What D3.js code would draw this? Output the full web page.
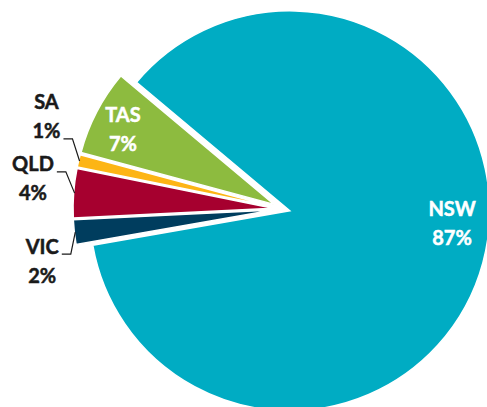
<!DOCTYPE html>
<html>
<head>
<meta charset="utf-8">
<script src="https://cdn.jsdelivr.net/npm/d3@7"></script>
<style>
  html, body { margin: 0; padding: 0; background: #ffffff; }
  svg { display: block; overflow: hidden; }
  text { font-family: Lato, "Open Sans", "Liberation Sans", sans-serif; font-weight: 700; }
</style>
</head>
<body>
<div id="chart"></div>
<script>
// ---- data ----
const categories = ["NSW", "VIC", "QLD", "SA", "TAS"];
const shares = [87, 2, 4, 1, 7];           // percent shares as labelled
const sliceColors = ["#00ACC3", "#003D5E", "#A6002F", "#FDB515", "#8DBB3F"];

// ---- layout (not data) ----
const W = 487, H = 407;
const center = [283, 209];
const radius = 200;
const startDeg = -50;
const explodeDist = [7, 10, 10, 10, 10];
const labelInside = [true, false, false, false, true];
// label anchor: [angle (deg, clockwise from 12 o'clock), distance from pie centre]
const labelPolar = [[97.25, 170.4], [256.2, 247.9], [275.3, 251.1], [289.8, 251.4], [294.4, 175.7]];
// which text line the leader attaches to (0 = name, 1 = percent), -1 = none
const leaderLine = [-1, 0, 0, 1, -1];
const lineGap = 29;
const fontSize = 20;

const data = categories.map((c, i) => ({ name: c, value: shares[i], color: sliceColors[i], idx: i }));

const svg = d3.select("#chart").append("svg")
  .attr("width", W).attr("height", H);

const toRad = d => d * Math.PI / 180;
const pie = d3.pie().sort(null).value(d => d.value)
  .startAngle(toRad(startDeg)).endAngle(toRad(startDeg) + 2 * Math.PI);
const arcs = pie(data);
const arcGen = d3.arc().innerRadius(0).outerRadius(radius);

const slices = svg.append("g").attr("transform", `translate(${center[0]},${center[1]})`);

arcs.forEach(a => {
  const mid = (a.startAngle + a.endAngle) / 2;
  const off = d3.pointRadial(mid, explodeDist[a.data.idx]);
  a.offset = off;
  a.mid = mid;
  slices.append("path")
    .attr("transform", `translate(${off[0]},${off[1]})`)
    .attr("d", arcGen(a))
    .attr("fill", a.data.color)
    .attr("stroke", "#ffffff")
    .attr("stroke-width", 1.5)
    .attr("stroke-linejoin", "miter");
});

// ---- labels ----
const labels = svg.append("g").attr("transform", `translate(${center[0]},${center[1]})`);
arcs.forEach(a => {
  const i = a.data.idx;
  const p = d3.pointRadial(toRad(labelPolar[i][0]), labelPolar[i][1]);
  const fill = labelInside[i] ? "#ffffff" : "#1a1a1a";
  const lines = [a.data.name, a.data.value + "%"];
  const texts = lines.map((t, k) => labels.append("text")
    .attr("x", p[0])
    .attr("y", p[1] + (k === 0 ? -lineGap / 2 : lineGap / 2))
    .attr("text-anchor", "middle")
    .attr("font-size", fontSize)
    .attr("fill", fill)
    .attr("stroke", fill)
    .attr("stroke-width", 0.5)
    .text(t));

  if (leaderLine[i] >= 0) {
    const t = texts[leaderLine[i]];
    const bb = t.node().getBBox();
    const endX = bb.x + bb.width + 3;
    const endY = +t.attr("y") + 0.5;
    const elbowX = endX + 9;
    const start = d3.pointRadial(a.mid, radius - 1);
    const sx = start[0] + a.offset[0], sy = start[1] + a.offset[1];
    labels.append("path")
      .attr("d", d3.line()([[sx, sy], [elbowX, endY], [endX, endY]]))
      .attr("fill", "none")
      .attr("stroke", "#1a1a1a")
      .attr("stroke-width", 1.2);
  }
});
</script>
</body>
</html>
